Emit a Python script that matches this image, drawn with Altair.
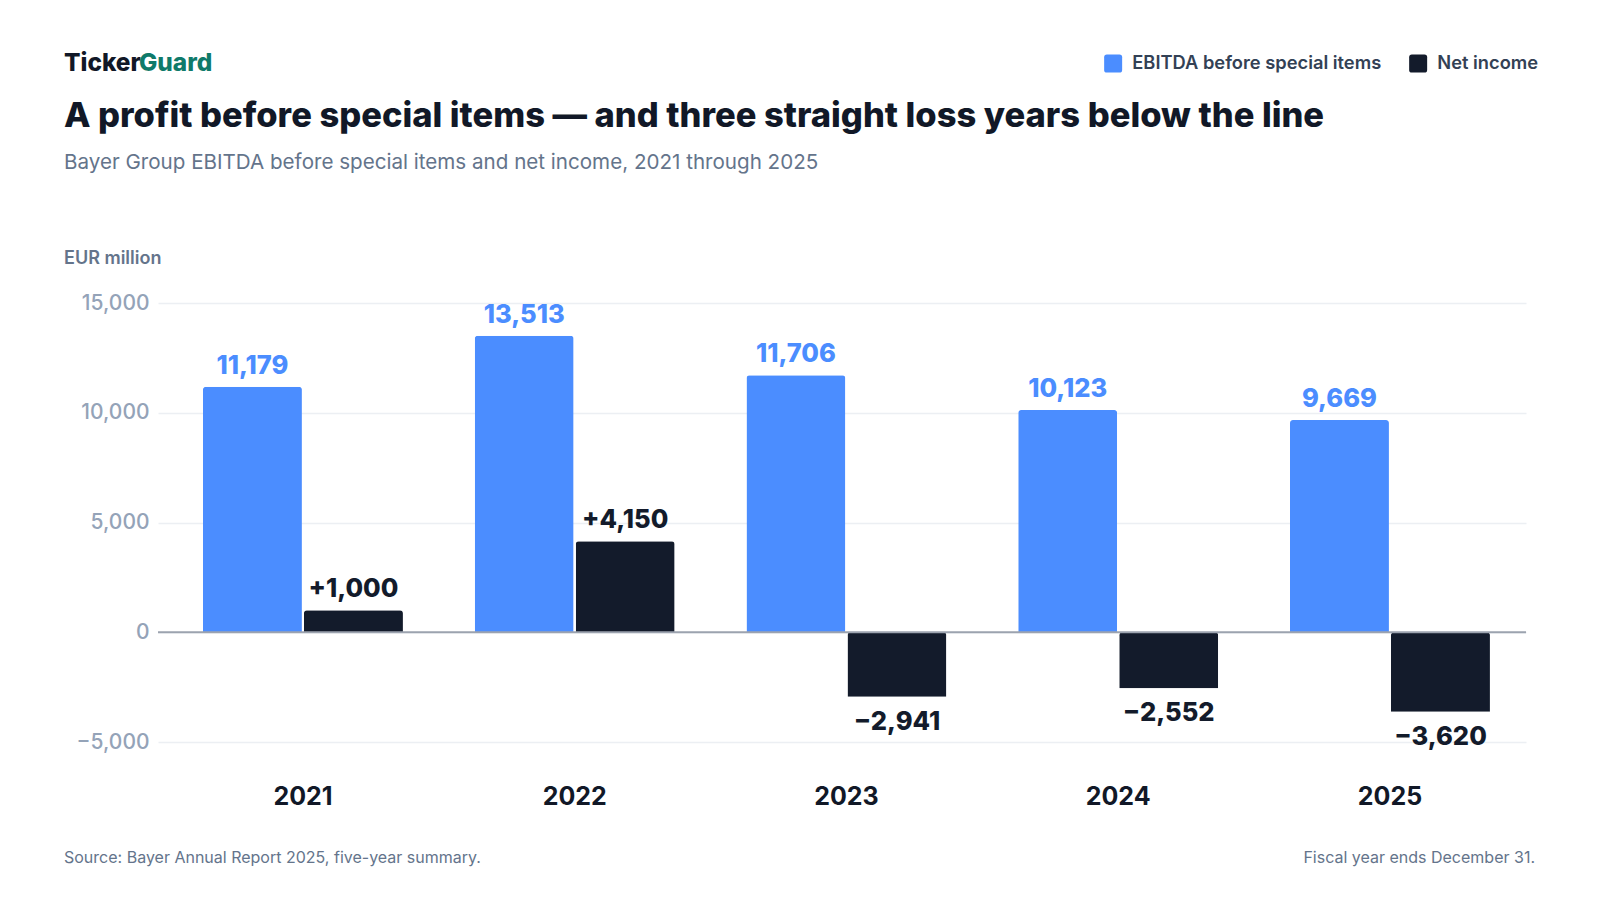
import pandas as pd
import altair as alt

# values (EUR million)
years = ["2021", "2022", "2023", "2024", "2025"]
ebitda = [11179, 13513, 11706, 10123, 9669]
net_income = [1000, 4150, -2941, -2552, -3620]
series_names = ["EBITDA before special items", "Net income"]
series_colors = ["#4b8dff", "#131b2b"]
y_ticks = [-5000, 0, 5000, 10000, 15000]

FONT = "Inter"
INK = "#111827"
MUTED = "#64748b"


def fmt(v, signed):
    s = f"{abs(v):,}"
    if v < 0:
        return "\u2212" + s
    return ("+" + s) if signed else s


rows = []
for i, yr in enumerate(years):
    rows.append({"year": yr, "series": series_names[0], "value": ebitda[i],
                 "label": fmt(ebitda[i], False)})
    rows.append({"year": yr, "series": series_names[1], "value": net_income[i],
                 "label": fmt(net_income[i], True)})
df = pd.DataFrame(rows)

rounded_square = ("M -0.7 -1 H 0.7 Q 1 -1 1 -0.7 V 0.7 Q 1 1 0.7 1 H -0.7 "
                  "Q -1 1 -1 0.7 V -0.7 Q -1 -1 -0.7 -1 Z")

x_enc = alt.X("year:N", sort=years,
              scale=alt.Scale(paddingInner=0.264, paddingOuter=0.149, align=0.555),
              axis=alt.Axis(title=None, labelAngle=0, domain=False, ticks=False, tickSize=0,
                            grid=False, labelFont=FONT, labelFontSize=25, labelFontWeight=700,
                            labelColor=INK, labelBaseline="alphabetic", labelPadding=62))
xoff_enc = alt.XOffset("series:N", sort=series_names,
                       scale=alt.Scale(domain=series_names, paddingInner=0.02, paddingOuter=0))
y_enc = alt.Y("value:Q", scale=alt.Scale(domain=[-5000, 15000], nice=False, zero=True),
              axis=alt.Axis(title=None, values=y_ticks, format=",d", domain=False, ticks=False,
                            tickSize=0, grid=True, gridColor="#eceff3", gridWidth=1.5,
                            labelFont=FONT, labelFontSize=21, labelFontWeight=500,
                            labelColor="#94a3b8", labelPadding=9))
color_scale = alt.Scale(domain=series_names, range=series_colors)

base = alt.Chart(df)

bars = base.mark_bar(cornerRadiusEnd=3).encode(
    x=x_enc,
    xOffset=xoff_enc,
    y=y_enc,
    color=alt.Color("series:N", scale=color_scale, sort=series_names,
                    legend=alt.Legend(orient="none", legendX=946, legendY=-249,
                                      direction="horizontal", title=None,
                                      symbolType=rounded_square, symbolSize=324,
                                      symbolStrokeWidth=0, symbolOpacity=1,
                                      labelFont=FONT, labelFontSize=18.3, labelFontWeight=600,
                                      labelColor="#334155", labelOffset=10, labelLimit=0,
                                      columnPadding=27, padding=0)),
)

zero_line = alt.Chart(pd.DataFrame({"value": [0]})).mark_rule(
    color="#9ca3af", strokeWidth=2
).encode(y=y_enc)

label_pos = base.transform_filter("datum.value >= 0").mark_text(
    font=FONT, fontSize=25.5, fontWeight=800, baseline="alphabetic", dy=-13
).encode(
    x=x_enc,
    xOffset=xoff_enc,
    y=y_enc,
    text="label:N",
    color=alt.Color("series:N", scale=color_scale, legend=None),
)

label_neg = base.transform_filter("datum.value < 0").mark_text(
    font=FONT, fontSize=25.5, fontWeight=800, baseline="alphabetic", dy=33
).encode(
    x=x_enc,
    xOffset=xoff_enc,
    y=y_enc,
    text="label:N",
    color=alt.Color("series:N", scale=color_scale, legend=None),
)


def note(text, x, y, size, weight, color, align="left"):
    return alt.Chart(pd.DataFrame({"t": [text]})).mark_text(
        font=FONT, fontSize=size, fontWeight=weight, color=color,
        align=align, baseline="alphabetic"
    ).encode(x=alt.value(x), y=alt.value(y), text="t:N")


brand_a = note("Ticker", -94, -232, 24.4, 800, INK)
brand_b = note("Guard", -19, -232, 24.4, 800, "#0f7a6a")
title = note("A profit before special items \u2014 and three straight loss years below the line",
             -94, -176, 34.5, 800, INK)
subtitle = note("Bayer Group EBITDA before special items and net income, 2021 through 2025",
                -94, -134, 20.6, 400, MUTED)
unit = note("EUR million", -94, -39, 18, 600, MUTED)
source = note("Source: Bayer Annual Report 2025, five-year summary.", -94, 560, 16, 400, MUTED)
fiscal = note("Fiscal year ends December 31.", 1377, 560, 16, 400, MUTED, align="right")

chart = alt.layer(
    bars, zero_line, label_pos, label_neg,
    brand_a, brand_b, title, subtitle, unit, source, fiscal
).properties(
    width=1368,
    height=439,
    padding={"left": 150, "top": 295, "right": 66, "bottom": 150},
    autosize=alt.AutoSizeParams(type="none"),
    background="white",
).configure(font=FONT, view=alt.ViewConfig(stroke=None))

chart.save("out.html", embed_options={"renderer": "svg", "actions": False})
